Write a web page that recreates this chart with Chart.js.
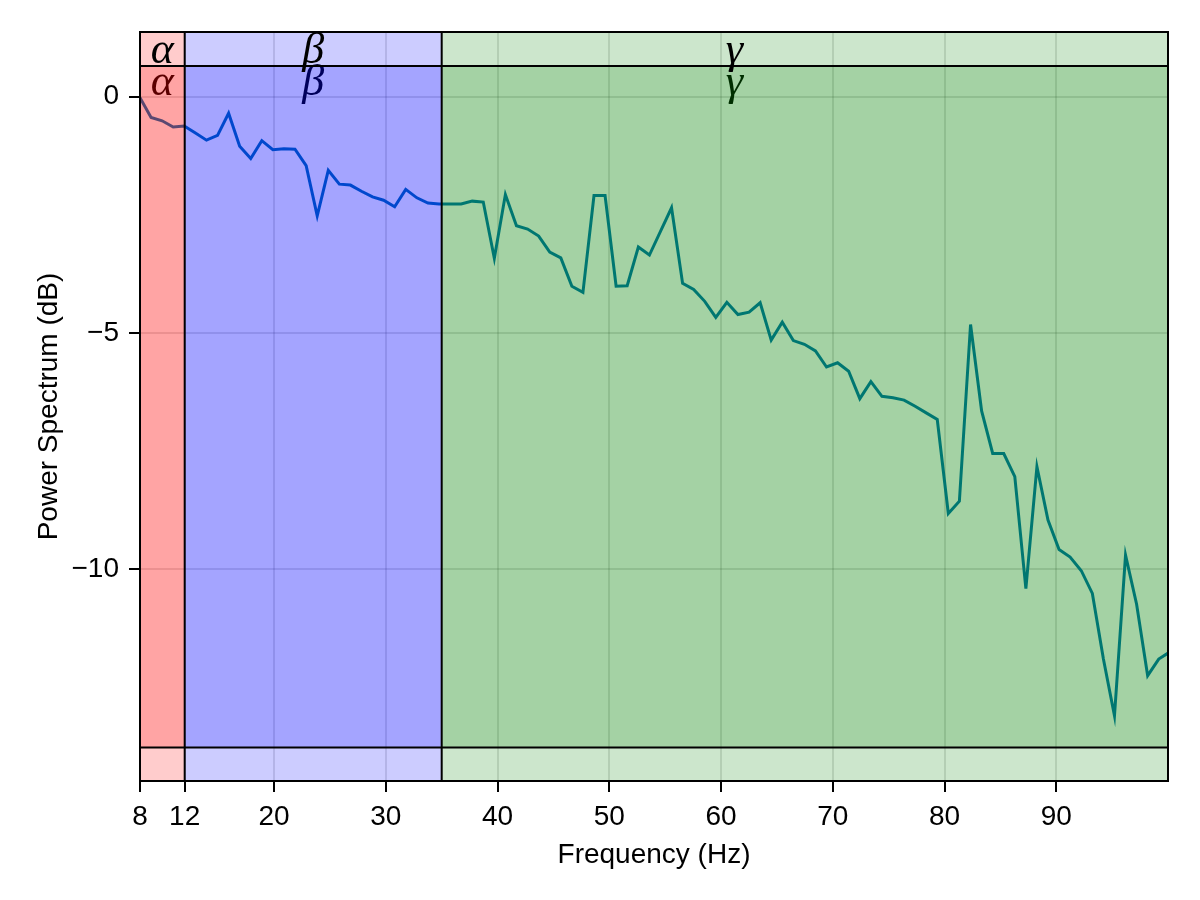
<!DOCTYPE html>
<html>
<head>
<meta charset="utf-8">
<script src="https://cdn.jsdelivr.net/npm/chart.js@4.4.1/dist/chart.umd.min.js"></script>
<style>
  html, body { margin: 0; padding: 0; background: #fff; }
  #wrap { width: 1200px; height: 900px; }
</style>
</head>
<body>
<div id="wrap"><canvas id="spectrumChart" width="1200" height="900"></canvas></div>
<script>
// frequency bins (Hz) and power (dB)
const freqs = [
    8.00, 8.99, 9.98, 10.97, 11.96, 12.96, 13.95, 14.94, 15.93, 16.92,
    17.91, 18.90, 19.89, 20.88, 21.87, 22.87, 23.86, 24.85, 25.84, 26.83,
    27.82, 28.81, 29.80, 30.79, 31.78, 32.78, 33.77, 34.76, 35.75, 36.74,
    37.73, 38.72, 39.71, 40.70, 41.69, 42.69, 43.68, 44.67, 45.66, 46.65,
    47.64, 48.63, 49.62, 50.61, 51.60, 52.60, 53.59, 54.58, 55.57, 56.56,
    57.55, 58.54, 59.53, 60.52, 61.51, 62.51, 63.50, 64.49, 65.48, 66.47,
    67.46, 68.45, 69.44, 70.43, 71.42, 72.42, 73.41, 74.40, 75.39, 76.38,
    77.37, 78.36, 79.35, 80.34, 81.33, 82.33, 83.32, 84.31, 85.30, 86.29,
    87.28, 88.27, 89.26, 90.25, 91.24, 92.24, 93.23, 94.22, 95.21, 96.20,
    97.19, 98.18, 99.17, 100.16
];
const power = [
    -0.02, -0.44, -0.51, -0.64, -0.62, -0.77, -0.92, -0.82, -0.35, -1.05,
    -1.31, -0.93, -1.12, -1.10, -1.11, -1.46, -2.52, -1.56, -1.85, -1.87,
    -2.00, -2.12, -2.19, -2.33, -1.96, -2.14, -2.25, -2.27, -2.27, -2.27,
    -2.21, -2.23, -3.42, -2.07, -2.73, -2.80, -2.95, -3.29, -3.41, -4.01,
    -4.14, -2.09, -2.09, -4.01, -4.00, -3.18, -3.35, -2.85, -2.35, -3.95,
    -4.08, -4.33, -4.67, -4.35, -4.61, -4.56, -4.36, -5.15, -4.77, -5.16,
    -5.24, -5.38, -5.72, -5.63, -5.81, -6.39, -6.03, -6.34, -6.37, -6.42,
    -6.55, -6.69, -6.83, -8.82, -8.56, -4.82, -6.65, -7.55, -7.55, -8.04,
    -10.41, -7.83, -8.96, -9.58, -9.74, -10.03, -10.51, -11.90, -13.10, -9.70,
    -10.74, -12.25, -11.90, -11.75
];

const xTicks = [8, 12, 20, 30, 40, 50, 60, 70, 80, 90];
const yTicks = [0, -5, -10];

// frequency bands
const bandNames = ["α", "β", "γ"];
const bandStart = [8, 12, 35];
const bandEnd = [12, 35, 100];
const bandLabelX = [10, 23.5, 61.2];
const bandColors = ["rgba(255,0,0,0.2)", "rgba(0,0,255,0.2)", "rgba(0,128,0,0.2)"];
const innerTop = 0.65;
const innerBottom = -13.77;
const labelLow = 0.03;
const labelHigh = 0.71;

Chart.defaults.font.family = "'Liberation Sans', Arial, sans-serif";
Chart.defaults.color = "#000";

const bandPlugin = {
    id: "bands",
    afterDatasetsDraw(chart) {
        const { ctx, chartArea: a, scales: { x, y } } = chart;
        ctx.save();
        ctx.beginPath();
        ctx.rect(a.left, a.top, a.right - a.left, a.bottom - a.top);
        ctx.clip();

        const drawLabels = (yv) => {
            ctx.fillStyle = "#000";
            ctx.font = "italic 44px 'Liberation Serif', serif";
            ctx.textAlign = "center";
            ctx.textBaseline = "alphabetic";
            bandNames.forEach((name, i) => {
                ctx.fillText(name, x.getPixelForValue(bandLabelX[i]), y.getPixelForValue(yv));
            });
        };

        drawLabels(labelLow);

        const yt = y.getPixelForValue(innerTop);
        const yb = y.getPixelForValue(innerBottom);
        bandStart.forEach((s, i) => {
            const x0 = x.getPixelForValue(s);
            const x1 = x.getPixelForValue(bandEnd[i]);
            ctx.fillStyle = bandColors[i];
            ctx.fillRect(x0, a.top, x1 - x0, a.bottom - a.top);
            ctx.fillRect(x0, yt, x1 - x0, yb - yt);
        });

        ctx.strokeStyle = "#000";
        ctx.lineWidth = 2;
        ctx.beginPath();
        [yt, yb].forEach(py => {
            ctx.moveTo(a.left, py);
            ctx.lineTo(a.right, py);
        });
        [bandEnd[0], bandEnd[1]].forEach(v => {
            const px = x.getPixelForValue(v);
            ctx.moveTo(px, a.top);
            ctx.lineTo(px, a.bottom);
        });
        ctx.stroke();

        drawLabels(labelHigh);
        ctx.restore();

        // frame
        ctx.save();
        ctx.strokeStyle = "#000";
        ctx.lineWidth = 2;
        ctx.strokeRect(a.left, a.top, a.right - a.left, a.bottom - a.top);
        ctx.restore();
    }
};

const ctx = document.getElementById("spectrumChart").getContext("2d");
new Chart(ctx, {
    type: "line",
    data: {
        datasets: [{
            label: "Power",
            data: freqs.map((f, i) => ({ x: f, y: power[i] })),
            borderColor: "rgb(0,114,178)",
            borderWidth: 3,
            pointRadius: 0,
            tension: 0,
            fill: false
        }]
    },
    options: {
        responsive: false,
        animation: false,
        devicePixelRatio: 1,
        layout: { padding: { left: 0, right: 32, top: 32, bottom: 0 } },
        plugins: {
            legend: { display: false },
            tooltip: { enabled: false }
        },
        scales: {
            x: {
                type: "linear",
                min: 8,
                max: 100,
                afterBuildTicks: scale => { scale.ticks = xTicks.map(v => ({ value: v })); },
                afterFit: scale => { scale.height = 119; },
                grid: {
                    color: "rgba(0,0,0,0.12)",
                    lineWidth: 2,
                    tickColor: "#000",
                    tickWidth: 2,
                    tickLength: 11
                },
                border: { display: true, color: "#000", width: 2 },
                ticks: {
                    font: { size: 28 },
                    padding: 8,
                    maxRotation: 0,
                    autoSkip: false
                },
                title: {
                    display: true,
                    text: "Frequency (Hz)",
                    font: { size: 28 },
                    padding: { top: 0, bottom: 28 }
                }
            },
            y: {
                type: "linear",
                min: -14.48,
                max: 1.369,
                afterBuildTicks: scale => { scale.ticks = yTicks.map(v => ({ value: v })); },
                afterFit: scale => { scale.width = 140; },
                grid: {
                    color: "rgba(0,0,0,0.12)",
                    lineWidth: 2,
                    tickColor: "#000",
                    tickWidth: 2,
                    tickLength: 11
                },
                border: { display: true, color: "#000", width: 2 },
                ticks: {
                    font: { size: 28 },
                    padding: 10,
                    callback: v => (v < 0 ? "\u2212" + Math.abs(v) : String(v))
                },
                title: {
                    display: true,
                    text: "Power Spectrum (dB)",
                    font: { size: 28 },
                    padding: { top: 32, bottom: 0 }
                }
            }
        }
    },
    plugins: [bandPlugin]
});
</script>
</body>
</html>
